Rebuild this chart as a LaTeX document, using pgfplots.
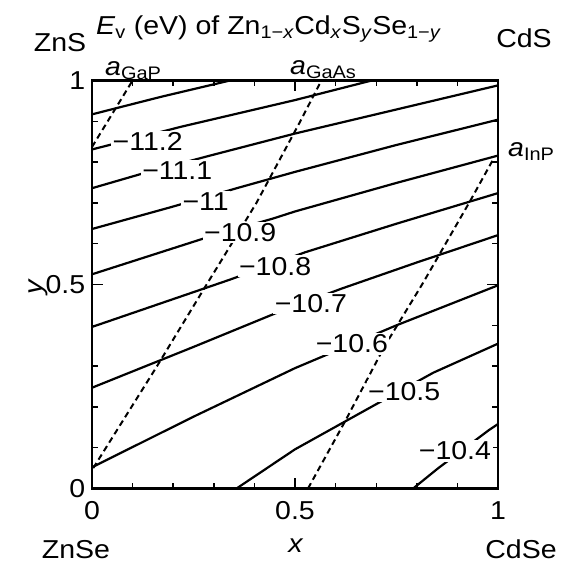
\documentclass[border=0pt]{standalone}
\usepackage{fontspec}
\setmainfont{Liberation Sans}[FakeStretch=1.1]
\usepackage{pgfplots}
\pgfplotsset{compat=1.18}
\begin{document}
\fontsize{26}{30}\selectfont
\begin{tikzpicture}[font=\fontsize{26}{30}\selectfont]
\path[use as bounding box] (-92bp,-77.5bp) rectangle (469bp,488.5bp);
\begin{axis}[
  scale only axis, width=406bp, height=408bp,
  xmin=0, xmax=1, ymin=0, ymax=1,
  xtick={0,0.5,1}, ytick={0,0.5,1},
  minor xtick={0.1,0.2,0.3,0.4,0.6,0.7,0.8,0.9},
  minor ytick={0.1,0.2,0.3,0.4,0.6,0.7,0.8,0.9},
  tick pos=both, tick align=inside,
  major tick length=11bp, minor tick length=6bp,
  every tick/.style={black, line width=1.4bp},
  minor tick style={black, line width=1.4bp},
  axis line style={line width=2.5bp},
  /pgf/number format/assume math mode=true,
  tick label style={font=\fontsize{26}{30}\selectfont},
  xticklabel style={yshift=-4bp},
  yticklabel style={xshift=2bp},
  clip=true,
]
% contour lines (E_v in eV)
\addplot[black, line width=2.2bp] coordinates {(0,0.917) (0.17,0.96) (0.34,1.0)};
\addplot[black, line width=2.2bp] coordinates {(0,0.831) (0.221,0.887) (0.5,0.952) (0.689,1.0)};
\addplot[black, line width=2.2bp] coordinates {(0,0.736) (0.128,0.773) (0.291,0.816) (0.5,0.870) (0.75,0.929) (1,0.988)};
\addplot[black, line width=2.2bp] coordinates {(0,0.636) (0.196,0.690) (0.36,0.737) (0.5,0.776) (0.75,0.842) (1,0.904)};
\addplot[black, line width=2.2bp] coordinates {(0,0.525) (0.282,0.615) (0.447,0.662) (0.5,0.679) (0.75,0.749) (1,0.816)};
\addplot[black, line width=2.2bp] coordinates {(0,0.396) (0.34,0.512) (0.525,0.579) (0.75,0.649) (1,0.724)};
\addplot[black, line width=2.2bp] coordinates {(0,0.247) (0.25,0.347) (0.451,0.429) (0.615,0.490) (0.8,0.554) (1,0.621)};
\addplot[black, line width=2.2bp] coordinates {(0,0.052) (0.25,0.176) (0.5,0.295) (0.75,0.40) (1,0.498)};
\addplot[black, line width=2.2bp] coordinates {(0.356,0) (0.5,0.096) (0.697,0.205) (0.841,0.284) (1,0.355)};
\addplot[black, line width=2.2bp] coordinates {(0.791,0) (0.853,0.05) (0.976,0.142) (1,0.158)};
% lattice-matching lines
\addplot[black, line width=2bp, dash pattern=on 6bp off 4bp] coordinates {(0,0.837) (0.1,1.0)};
\addplot[black, line width=2bp, dash pattern=on 6bp off 4bp] coordinates {(0.003,0.05) (0.159,0.298) (0.278,0.493) (0.323,0.566) (0.405,0.70) (0.512,0.898) (0.565,1.0)};
\addplot[black, line width=2bp, dash pattern=on 6bp off 4bp] coordinates {(0.532,0) (0.623,0.164) (0.722,0.351) (0.816,0.505) (0.931,0.704) (0.99,0.81)};
% contour labels
\tikzset{clab/.style={fill=white, inner sep=1.5bp, font=\fontsize{26}{30}\selectfont}}
\node[clab] at (axis cs:0.137,0.851) {−11.2};
\node[clab] at (axis cs:0.21,0.780) {−11.1};
\node[clab] at (axis cs:0.28,0.704) {−11};
\node[clab] at (axis cs:0.365,0.628) {−10.9};
\node[clab] at (axis cs:0.451,0.545) {−10.8};
\node[clab] at (axis cs:0.539,0.453) {−10.7};
\node[clab] at (axis cs:0.64,0.354) {−10.6};
\node[clab] at (axis cs:0.769,0.238) {−10.5};
\node[clab] at (axis cs:0.894,0.092) {−10.4};
\end{axis}
% outside texts (tikz coordinates in bp, axis origin at lower-left corner)
\node[anchor=base west, inner sep=0] at (4bp,454bp) {\textit{E}\textsubscript{v} (eV) of Zn\textsubscript{1−\textit{x}}Cd\textsubscript{\textit{x}}S\textsubscript{\textit{y}}Se\textsubscript{1−\textit{y}}};
\node[anchor=base, inner sep=0] at (-32bp,437bp) {ZnS};
\node[anchor=base, inner sep=0] at (432bp,441bp) {CdS};
\node[anchor=base west, inner sep=0] at (13bp,413bp) {\textit{a}\textsubscript{GaP}};
\node[anchor=base west, inner sep=0] at (198bp,414bp) {\textit{a}\textsubscript{GaAs}};
\node[anchor=base west, inner sep=0] at (416bp,332bp) {\textit{a}\textsubscript{InP}};
\node[anchor=base, inner sep=0] at (-16bp,-70bp) {ZnSe};
\node[anchor=base, inner sep=0] at (429bp,-70bp) {CdSe};
\node[anchor=base, inner sep=0] at (204bp,-64bp) {\textit{x}};
\node[rotate=90, inner sep=0] at (-54bp,202bp) {\textit{y}};
\end{tikzpicture}
\end{document}
